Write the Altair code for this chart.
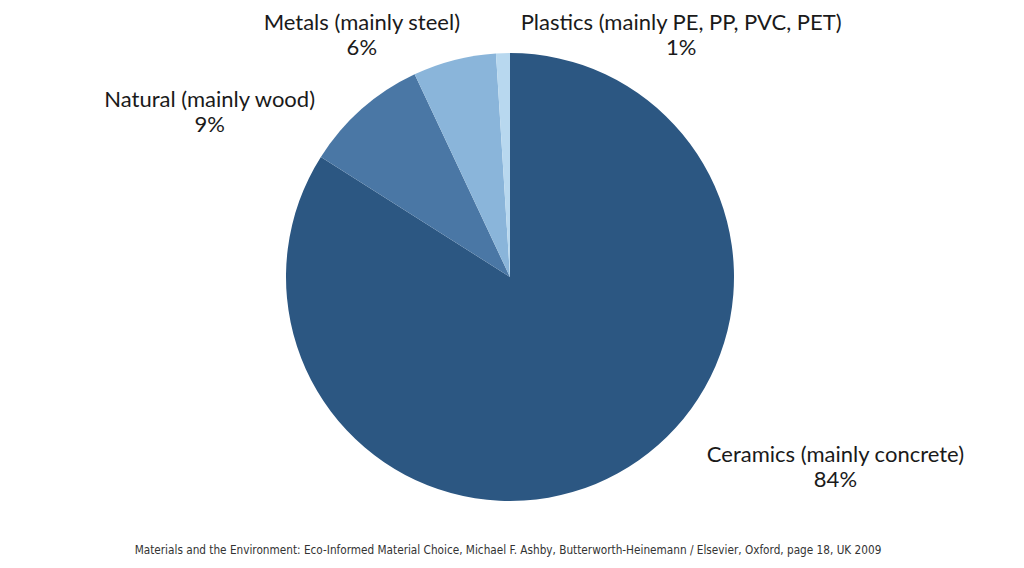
import altair as alt
import pandas as pd

categories = ["Ceramics (mainly concrete)", "Natural (mainly wood)", "Metals (mainly steel)", "Plastics (mainly PE, PP, PVC, PET)"]
values = [84, 9, 6, 1]
colors = ["#2c5782", "#4a77a5", "#8ab5da", "#b8d8ef"]
source = "Materials and the Environment: Eco-Informed Material Choice, Michael F. Ashby, Butterworth-Heinemann / Elsevier, Oxford, page 18, UK 2009"

df = pd.DataFrame({
    "cat": categories,
    "value": values,
    "order": list(range(len(categories))),
})
df["label"] = [f"{c}\n{v}%" for c, v in zip(categories, values)]

CX, CY = 502, 269
R = 224

theta = alt.Theta("value:Q", stack=True)
color = alt.Color("cat:N", scale=alt.Scale(domain=categories, range=colors), legend=None)
order = alt.Order("order:Q", sort="ascending")

arcs = alt.Chart(df).mark_arc(outerRadius=R, strokeWidth=0).encode(
    theta=theta, color=color, order=order,
    x=alt.value(CX), y=alt.value(CY),
)

offsets = {
    categories[0]: (205, -41),
    categories[1]: (-135, 11),
    categories[2]: (-86, -12),
    categories[3]: (179, -4),
}

layers = [arcs]
for cat, (dx, dy) in offsets.items():
    t = alt.Chart(df).mark_text(
        radius=250, dx=dx, dy=dy, align="center", baseline="middle",
        lineBreak="\n", font="Lato", fontSize=22, lineHeight=25, color="#1a1a1a",
    ).encode(
        theta=theta, order=order, text="label:N",
        x=alt.value(CX), y=alt.value(CY),
        opacity=alt.condition(alt.datum.cat == cat, alt.value(1), alt.value(0)),
    )
    layers.append(t)

foot = alt.Chart(pd.DataFrame({"t": [source]})).mark_text(
    font="DejaVu Sans Condensed, Liberation Sans, sans-serif", fontSize=11.7, color="#333333",
    align="center", baseline="middle",
).encode(text="t:N", x=alt.value(500), y=alt.value(542))
layers.append(foot)

chart = alt.layer(*layers).properties(
    width=1000, height=556, autosize=alt.AutoSizeParams(type="none"), padding=0,
).configure_view(strokeWidth=0, stroke="transparent", fill="white")

chart.save("out.html", embed_options={"renderer": "svg", "actions": False})
